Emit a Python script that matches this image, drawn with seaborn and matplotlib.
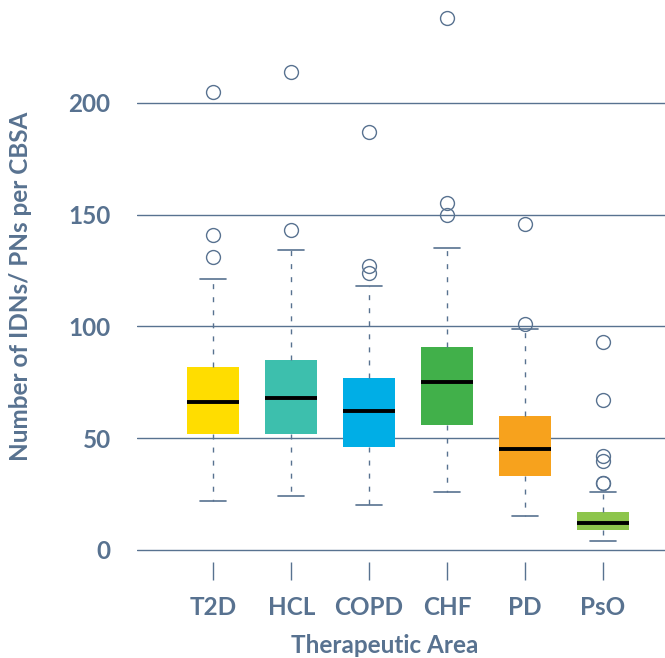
import numpy as np
import matplotlib
matplotlib.use('Agg')
import matplotlib.pyplot as plt
import seaborn as sns

# box statistics
areas = ['T2D', 'HCL', 'COPD', 'CHF', 'PD', 'PsO']
whisker_low = [22, 24, 20, 26, 15, 4]
quart1 = [52, 52, 46, 56, 33, 9]
medians = [66, 68, 62, 75, 45, 12]
quart3 = [82, 85, 77, 91, 60, 17]
whisker_high = [121, 134, 118, 135, 99, 26]
outliers = [[131, 141, 205], [143, 214], [124, 127, 187],
            [150, 155, 238], [101, 146], [30, 30, 40, 42, 67, 93]]
box_colors = ['#FFDD00', '#3DBFAD', '#00AEE6', '#41B04A', '#F7A21D', '#8DC54B']
y_ticks = [0, 50, 100, 150, 200]

ink = '#587290'

sns.set_theme(style='white')
plt.rcParams['font.family'] = ['Lato', 'DejaVu Sans']

stats = []
for i in range(len(areas)):
    stats.append({'label': areas[i], 'whislo': whisker_low[i], 'q1': quart1[i],
                  'med': medians[i], 'q3': quart3[i], 'whishi': whisker_high[i],
                  'fliers': outliers[i]})

fig = plt.figure(figsize=(6.65, 6.58), dpi=100)
ax = fig.add_axes([137 / 665, 1 - 556.7 / 658, 528 / 665, 556.7 / 658])

ax.yaxis.grid(True, color=ink, linewidth=1.0)
ax.set_axisbelow(True)

bp = ax.bxp(stats, positions=range(len(areas)), widths=0.667, patch_artist=True,
            manage_ticks=False,
            boxprops=dict(edgecolor='none', linewidth=0),
            whiskerprops=dict(color=ink, linewidth=1.0, linestyle=(0, (3.6, 5.8))),
            capprops=dict(color=ink, linewidth=1.2),
            medianprops=dict(color='black', linewidth=2.8, solid_capstyle='butt'),
            flierprops=dict(marker='o', markersize=10, markerfacecolor='none',
                            markeredgecolor=ink, markeredgewidth=1.0))
for patch, c in zip(bp['boxes'], box_colors):
    patch.set_facecolor(c)

ax.set_xlim(-0.98, 5.80)
ax.set_ylim(-3, 246)
ax.set_xticks(range(len(areas)))
ax.set_xticklabels(areas)
ax.set_yticks(y_ticks)

for s in ['top', 'right', 'left']:
    ax.spines[s].set_visible(False)
ax.spines['bottom'].set_position(('outward', 4))
ax.spines['bottom'].set_color('none')

ax.tick_params(axis='x', length=13, width=1.0, color=ink, direction='out',
               bottom=True, pad=11, labelsize=17.5, labelcolor=ink)
ax.tick_params(axis='y', length=0, pad=19, labelsize=17.5, labelcolor=ink)
for lab in ax.get_xticklabels() + ax.get_yticklabels():
    lab.set_fontweight('bold')

ax.set_xlabel('Therapeutic Area', fontsize=17.5, fontweight='bold', color=ink)
ax.set_ylabel('Number of IDNs/ PNs per CBSA', fontsize=17.5, fontweight='bold', color=ink)
ax.xaxis.set_label_coords(0.47, -0.138)
ax.yaxis.set_label_coords(-0.198, 0.485)

fig.savefig('out.png', dpi=100)
